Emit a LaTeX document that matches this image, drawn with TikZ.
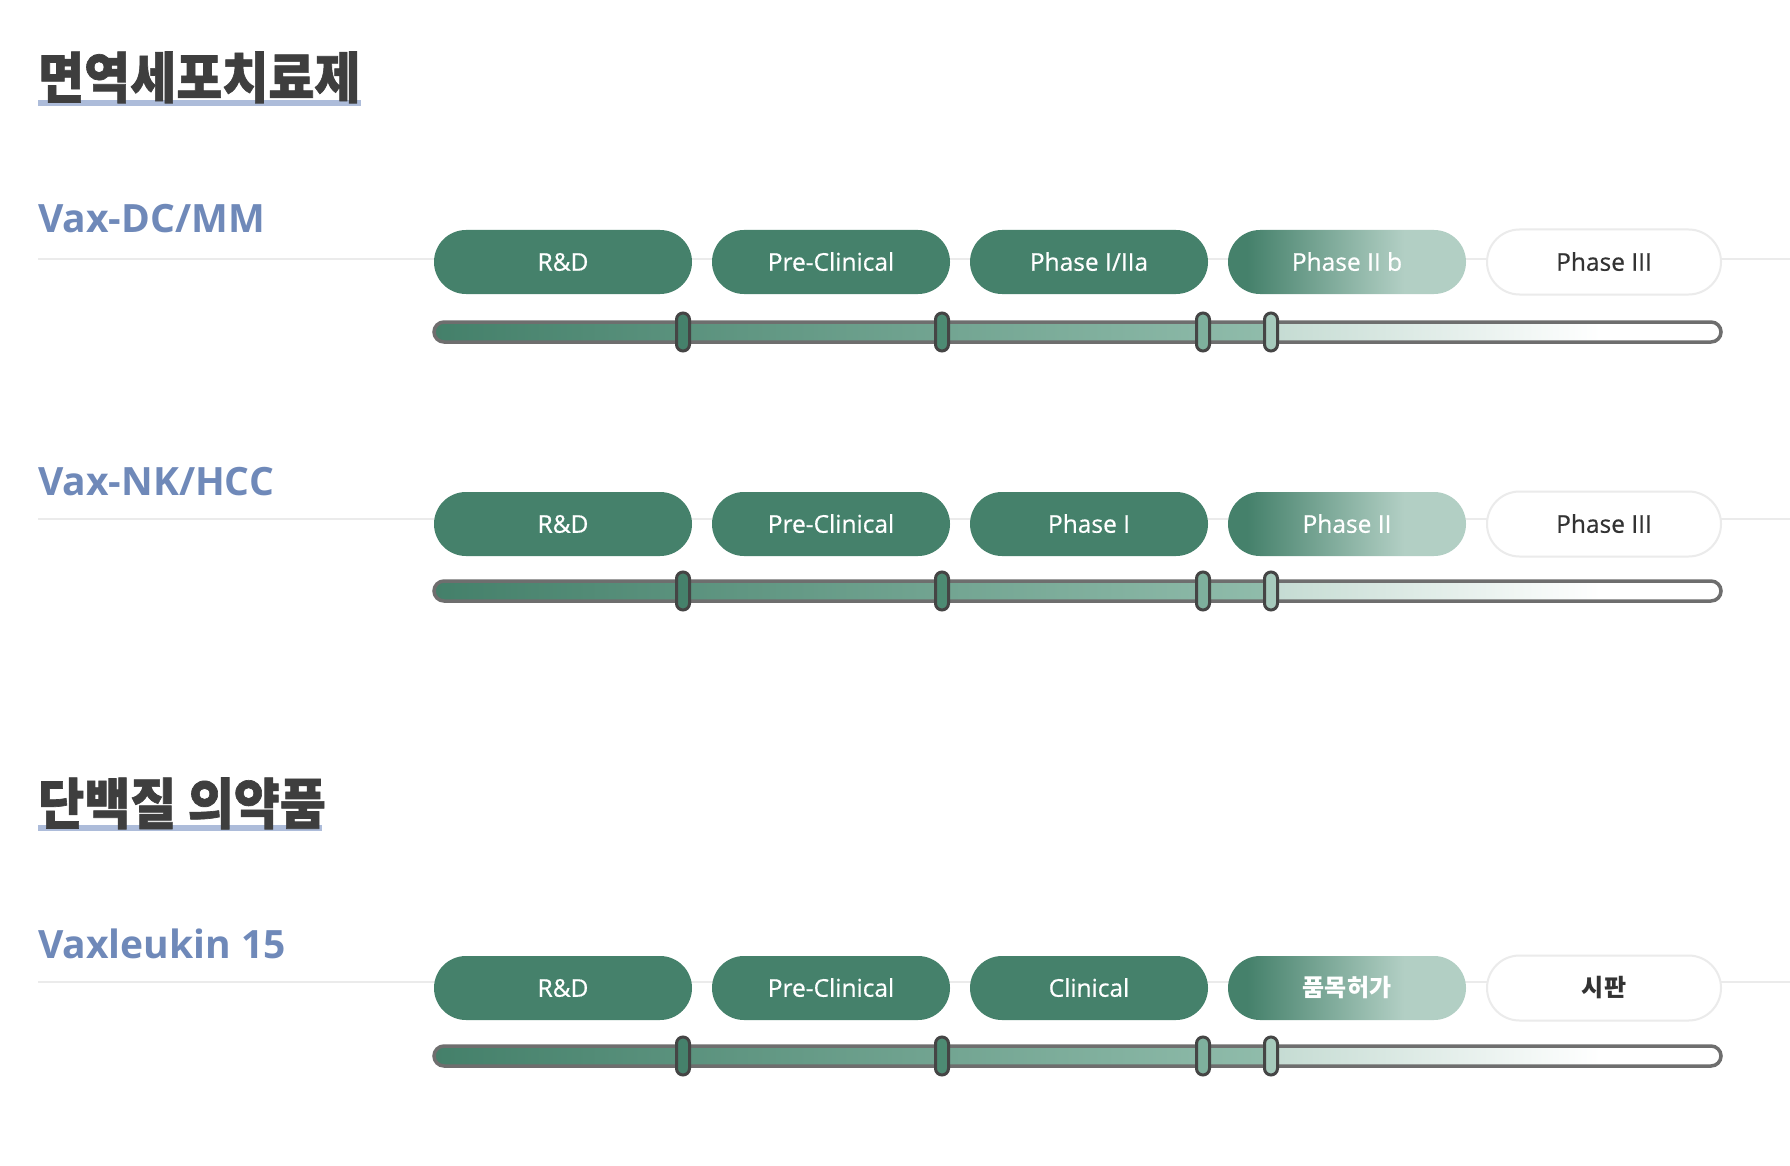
\documentclass[tikz,border=0pt]{standalone}
\usepackage{fontspec}
\setmainfont{Open Sans}
\newfontfamily\med{Open Sans}[FakeBold=0.5]
\newfontfamily\kr{Noto Sans CJK KR}
\newfontfamily\krheavy{Noto Sans CJK KR}[BoldFeatures={FakeBold=1.2}]
\definecolor{dkg}{HTML}{45816B}
\definecolor{ltg}{HTML}{B2CFC4}
\definecolor{ttl}{HTML}{3E3E3E}
\definecolor{uline}{HTML}{ADBCDA}
\definecolor{lblc}{HTML}{6F89B9}
\definecolor{rulec}{HTML}{EBEBEB}
\definecolor{trk}{HTML}{6E6E6E}
\definecolor{hbd}{HTML}{454545}
\definecolor{hA}{HTML}{45816B}
\definecolor{hB}{HTML}{4D8B73}
\definecolor{hC}{HTML}{7EB09D}
\definecolor{hD}{HTML}{A6CABC}
\definecolor{tA}{HTML}{44806A}
\definecolor{tB}{HTML}{90BCAB}
\definecolor{tC}{HTML}{C4DBD2}
\definecolor{ink}{HTML}{333333}
\pgfdeclarehorizontalshading{pillgrad}{100bp}{color(0bp)=(dkg); color(25bp)=(dkg); color(29bp)=(dkg); color(62bp)=(ltg); color(100bp)=(ltg)}
\tikzset{
  pill/.style={rectangle, rounded corners=32pt, minimum height=64pt, minimum width=238pt, inner sep=0pt,
    text=white, font=\med\fontsize{24.5}{24.5}\selectfont, text height=17.5pt, text depth=0pt, fill=dkg},
  widepill/.style={pill, minimum width=258pt},
  gradpill/.style={pill, fill=none, shading=pillgrad},
  openpill/.style={pill, fill=white, draw=rulec, line width=2pt, text=ink, minimum height=65pt, minimum width=234pt, rounded corners=32.5pt},
  krtext/.style={font=\kr\bfseries\fontsize{24}{24}\selectfont},
  handle/.style={rectangle, rounded corners=6.5pt, minimum width=13pt, minimum height=38pt, inner sep=0pt, draw=hbd, line width=3pt},
  lbl/.style={anchor=base west, inner sep=0pt, text=lblc, font=\fontsize{39}{39}\selectfont\bfseries},
  ttlbox/.style={anchor=base west, inner sep=0pt, text=ttl, font=\krheavy\bfseries\fontsize{55}{55}\selectfont},
  rulel/.style={draw=rulec, line width=2pt}
}
\newcommand\progbar[2]{%
  \begin{scope}
    \clip[rounded corners=10pt] (434,#1-10) rectangle (1721,#1+10);
    \shade[left color=tA, right color=tB] (434,#1-10) rectangle (1271,#1+10);
    \shade[left color=tC, right color=white] (1271,#1-10) rectangle (1600,#1+10);
  \end{scope}
  \draw[trk, line width=3.5pt, rounded corners=10pt] (434,#1-10) rectangle (1721,#1+10);
  \node[handle, fill=hA] (#2h1) at (683,#1) {};
  \node[handle, fill=hB] (#2h2) at (942,#1) {};
  \node[handle, fill=hC] (#2h3) at (1203,#1) {};
  \node[handle, fill=hD] (#2h4) at (1271,#1) {};
}
\begin{document}
\begin{tikzpicture}[x=1pt, y=-1pt]
\fill[white] (0,0) rectangle (1790,1166);
\useasboundingbox (0,0) rectangle (1790,1166);

% titles
\fill[uline] (38,100) rectangle (361,106);
\node[ttlbox] (t1) at (38,98) {\scalebox{0.91}[1]{면역세포치료제}};
\fill[uline] (38,825) rectangle (322,831);
\node[ttlbox] (t2) at (38,824) {\scalebox{0.91}[1]{단백질 의약품}};

% row 1
\coordinate (r1a) at (38,259);
\coordinate (r1b) at (1790,259);
\draw[rulel] (r1a) -- (r1b);
\node[lbl] (n1) at (38,233) {Vax-DC/MM};
\node[widepill] (p11) at (563,262) {R\&D};
\node[pill] (p12) at (831,262) {Pre-Clinical};
\node[pill] (p13) at (1089,262) {Phase I/IIa};
\node[gradpill] (p14) at (1347,262) {Phase II b};
\node[openpill] (p15) at (1604,262) {Phase III};
\progbar{332}{a}

% row 2
\coordinate (r2a) at (38,519);
\coordinate (r2b) at (1790,519);
\draw[rulel] (r2a) -- (r2b);
\node[lbl] (n2) at (38,495) {Vax-NK/HCC};
\node[widepill] (p21) at (563,524) {R\&D};
\node[pill] (p22) at (831,524) {Pre-Clinical};
\node[pill] (p23) at (1089,524) {Phase I};
\node[gradpill] (p24) at (1347,524) {Phase II};
\node[openpill] (p25) at (1604,524) {Phase III};
\progbar{591}{b}

% row 3
\coordinate (r3a) at (38,982);
\coordinate (r3b) at (1790,982);
\draw[rulel] (r3a) -- (r3b);
\node[lbl] (n3) at (38,958) {Vaxleukin 15};
\node[widepill] (p31) at (563,988) {R\&D};
\node[pill] (p32) at (831,988) {Pre-Clinical};
\node[pill] (p33) at (1089,988) {Clinical};
\node[gradpill, krtext] (p34) at (1347,988) {품목허가};
\node[openpill, krtext] (p35) at (1604,988) {시판};
\progbar{1056}{c}
\end{tikzpicture}
\end{document}
